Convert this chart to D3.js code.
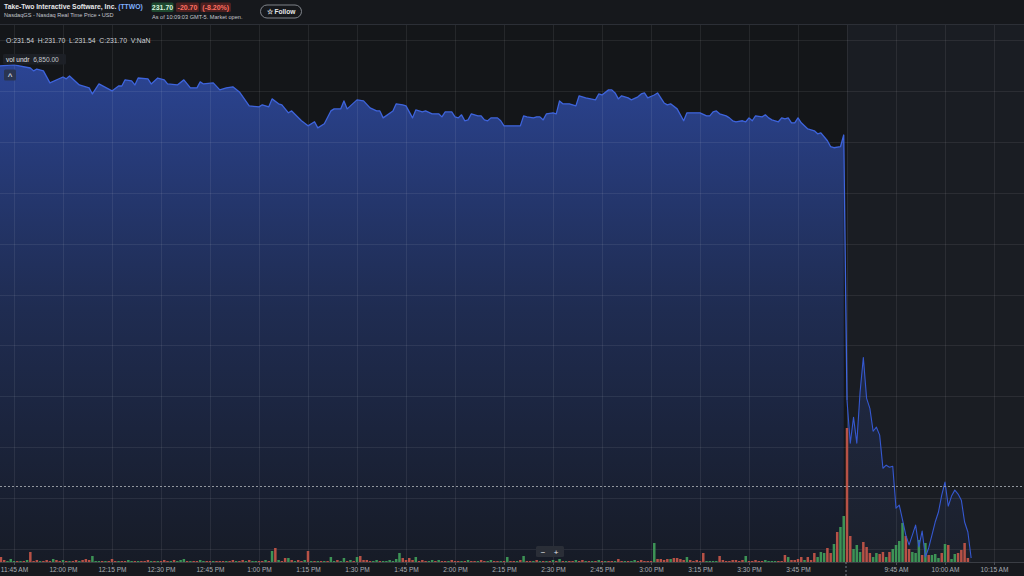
<!DOCTYPE html>
<html><head><meta charset="utf-8">
<script src="https://cdn.jsdelivr.net/npm/d3@7"></script>
<style>
html,body{margin:0;padding:0;background:#16181c;overflow:hidden;}
svg{display:block;font-family:"Liberation Sans",Arial,sans-serif;}
</style></head><body>
<svg id="c" width="1024" height="576"></svg>
<script>
// ---------- DATA ----------
const day1Times = ["11:40","11:45","11:50","11:51","11:52","11:54","11:56","12:00","12:01","12:02","12:05","12:08","12:09","12:11","12:15","12:17","12:18","12:19","12:21","12:22","12:23","12:26","12:27","12:29","12:31","12:32","12:35","12:37","12:39","12:41","12:42","12:43","12:46","12:48","12:50","12:52","12:54","12:57","13:00","13:01","13:03","13:04","13:06","13:07","13:09","13:10","13:13","13:15","13:17","13:18","13:20","13:22","13:23","13:25","13:26","13:27","13:30","13:32","13:34","13:36","13:37","13:38","13:41","13:42","13:44","13:45","13:47","13:48","13:50","13:51","13:53","13:55","13:56","13:57","13:59","14:00","14:01","14:02","14:03","14:04","14:05","14:07","14:08","14:09","14:10","14:11","14:13","14:14","14:15","14:20","14:21","14:22","14:24","14:25","14:26","14:27","14:28","14:30","14:31","14:32","14:33","14:35","14:37","14:38","14:40","14:43","14:44","14:45","14:47","14:48","14:49","14:50","14:51","14:53","14:54","14:56","14:57","14:58","14:59","15:01","15:02","15:04","15:05","15:06","15:08","15:10","15:11","15:15","15:17","15:18","15:19","15:20","15:21","15:23","15:24","15:25","15:26","15:28","15:29","15:30","15:31","15:32","15:34","15:35","15:36","15:37","15:39","15:40","15:41","15:42","15:43","15:44","15:45","15:46","15:48","15:50","15:51","15:52","15:54","15:55","15:56","15:58","15:59"];
const day1Prices = [256.47,256.53,256.35,256.18,256.29,256.18,255.47,255.82,255.71,255.88,255.35,255.18,254.82,255.41,255.00,255.29,255.29,255.65,255.59,255.35,255.76,255.71,255.41,255.76,255.65,255.41,255.35,255.65,255.18,255.18,255.53,255.41,255.47,255.06,255.18,255.24,254.94,254.12,254.06,254.18,254.06,254.53,254.24,254.18,253.71,253.82,253.24,252.94,253.18,252.82,253.06,253.82,253.94,253.94,254.41,253.94,254.47,254.41,254.00,253.82,253.82,253.41,253.82,254.24,254.18,254.12,253.41,253.88,253.76,253.82,253.65,253.65,253.47,253.76,253.76,253.47,253.41,253.59,253.24,253.29,253.65,253.53,253.53,253.29,253.24,253.41,253.41,253.24,252.94,252.94,253.53,253.47,253.41,253.47,253.47,253.29,253.65,253.71,253.65,254.41,254.24,254.24,254.12,254.71,254.59,254.47,254.82,254.76,255.06,255.06,254.88,254.53,254.71,254.59,254.47,254.65,254.82,254.88,254.59,254.76,254.88,254.29,254.18,254.24,253.94,253.24,253.71,253.71,253.53,253.53,253.76,253.82,253.65,253.53,253.41,253.24,253.18,253.24,253.18,253.41,253.24,253.53,253.47,253.59,253.41,253.29,253.18,253.41,253.35,253.41,253.12,253.12,253.41,253.12,252.76,252.65,252.47,252.53,252.06,251.71,251.65,251.71,252.40];
const day2Times = ["09:30","09:31","09:32","09:33","09:34","09:35","09:36","09:37","09:38","09:39","09:40","09:41","09:42","09:43","09:44","09:45","09:46","09:47","09:48","09:49","09:50","09:51","09:52","09:53","09:54","09:55","09:56","09:57","09:58","09:59","10:00","10:01","10:02","10:03","10:04","10:05","10:06","10:07","10:08"];
const day2Prices = [236.76,234.24,235.76,234.24,237.24,239.29,236.88,236.29,234.94,235.18,234.71,232.76,232.94,232.82,232.88,230.41,230.59,229.71,228.82,228.24,228.82,229.41,228.12,229.06,227.53,228.06,228.82,229.59,230.18,231.18,231.94,230.53,231.12,231.47,231.24,230.88,229.59,229.00,227.47];
// volume in thousands of shares, one bar per minute
const day1VolStart = "11:41";
const day1Volumes = [5,2,1,3,1,1,1,1,2,10, 1,2,1,1,2,1,3,2,1,2, 1,1,1,2,1,2,3,2,6,1, 1,1,1,1,3,1,1,1,1,2, 1,1,1,1,1,2,1,1,1,1, 2,1,1,2,1,2,3,1,1,1, 1,2,1,1,1,1,1,1,1,1, 1,2,1,1,2,1,2,1,1,1, 1,2,1,11,14,2,1,4,4,2, 1,2,1,2,11,1,1,1,1,1, 1,5,1,2,1,4,1,2,1,5, 6,2,2,1,1,2,1,1,1,2, 1,3,9,4,2,4,2,5,1,2, 1,1,2,1,2,1,1,1,2,1, 1,1,1,2,1,1,1,2,1,1, 2,1,1,1,1,5,1,1,1,2, 6,1,1,1,2,1,1,1,1,2, 1,3,1,1,1,1,2,1,2,1, 1,1,1,2,1,1,1,1,1,3, 1,1,1,1,2,1,2,1,1,1, 19,3,3,2,3,3,4,4,3,2, 5,2,1,2,1,9,1,1,1,1, 6,2,1,1,2,2,1,2,6,1, 1,2,1,1,2,1,1,1,1,1, 7,5,2,2,3,5,2,5,2,9, 5,10,9,14,9,18,30,35,46];
const day1VolDir = "rrgggrgrgr"+"rrgrrrgrrg"+"rgrrgrrrgg"+"grgrrrgrrg"+"grgrrrgrgr"+"rrgrgggrgr"+"rggrrgrrrg"+"rrgrrgrggr"+"rgrgrgrrgr"+"grrgrgrgrg"+"rggrggrgrg"+"rrrrggrggg"+"gggrrrrgrr"+"rggrgrrgrr"+"rgrgrrgrrg"+"grrgrgrrgr"+"grrgrgrgrg"+"rgrgrrgrrg"+"rgrgrgrrgr"+"rgrggrrrrr"+"grrrrgrrrr"+"grrrrrgggg"+"rrrrrrrrgr"+"rrrrggggrr"+"rgrrrrgrrr"+"gggrrgrgg";
const day2VolStart = "09:30";
const day2Volumes = [134,26,13,17,10,20,15,9,5,9,8,10,5,10,13,17,21,39,26,13,10,9,22,7,19,7,7,8,4,9,18,17,3,8,9,12,19,4];
const day2VolDir = "rrgggrrrggrrgrggggrrgggrgrgggrgrggrrrr";
const priceTicks = [228,231,234,237,240,243,246,249,252,255,258];
const tickTimes1 = ["11:45","12:00","12:15","12:30","12:45","13:00","13:15","13:30","13:45","14:00","14:15","14:30","14:45","15:00","15:15","15:30","15:45"];
const tickLabels1 = ["11:45 AM","12:00 PM","12:15 PM","12:30 PM","12:45 PM","1:00 PM","1:15 PM","1:30 PM","1:45 PM","2:00 PM","2:15 PM","2:30 PM","2:45 PM","3:00 PM","3:15 PM","3:30 PM","3:45 PM"];
const tickTimes2 = ["09:45","10:00","10:15"];
const tickLabels2 = ["9:45 AM","10:00 AM","10:15 AM"];
const lastPrice = 231.70;

// ---------- HELPERS ----------
const mins = t => { const [h,m] = t.split(":").map(Number); return h*60+m; };
const idx1 = t => mins(t) - 705;            // 11:45 = 0
const idx2 = t => mins(t) - 570 + 255;      // 9:30 (next day) continues after 16:00
const W = 1024, H = 576, AX = 562;

const svg = d3.select("#c");
const defs = svg.append("defs");
const x = d3.scaleLinear().domain([0, 300]).range([14, 14 + 300*49/15]);
const y = d3.scaleLinear().domain([228, 258]).range([549, 40]);
const yv = d3.scaleLinear().domain([0, 134]).range([AX, 428]);

// backgrounds
svg.append("rect").attr("width",W).attr("height",H).attr("fill","#16181c");
svg.append("rect").attr("x",0).attr("y",25).attr("width",x(255)).attr("height",AX-25).attr("fill","#141619");
svg.append("rect").attr("x",x(255)).attr("y",25).attr("width",W-x(255)).attr("height",AX-25).attr("fill","#1a1d23");

// gradients
const g1 = defs.append("linearGradient").attr("id","g1").attr("gradientUnits","userSpaceOnUse")
  .attr("x1",0).attr("y1",60).attr("x2",0).attr("y2",AX);
g1.append("stop").attr("offset",0).attr("stop-color","#3252b8").attr("stop-opacity",0.78);
g1.append("stop").attr("offset",0.5).attr("stop-color","#2e4a9e").attr("stop-opacity",0.42);
g1.append("stop").attr("offset",1).attr("stop-color","#2e4a9e").attr("stop-opacity",0.10);
const g2 = defs.append("linearGradient").attr("id","g2").attr("gradientUnits","userSpaceOnUse")
  .attr("x1",0).attr("y1",350).attr("x2",0).attr("y2",AX);
g2.append("stop").attr("offset",0).attr("stop-color","#2e4a9e").attr("stop-opacity",0.28);
g2.append("stop").attr("offset",1).attr("stop-color","#2e4a9e").attr("stop-opacity",0.06);

const d1 = day1Times.map((t,i)=>({i:idx1(t), v:day1Prices[i]}));
const d2 = day2Times.map((t,i)=>({i:idx2(t), v:day2Prices[i]}));

const area = d3.area().x(d=>x(d.i)).y0(AX).y1(d=>y(d.v));
const line = d3.line().x(d=>x(d.i)).y(d=>y(d.v));

svg.append("path").datum(d1).attr("d",area).attr("fill","url(#g1)");
svg.append("path").datum(d2).attr("d",area).attr("fill","url(#g2)");

// grid
const grid = svg.append("g").attr("stroke","#ffffff").attr("stroke-opacity",0.075).attr("stroke-width",1);
const vIdx = tickTimes1.map(idx1).concat([255]).concat(tickTimes2.map(idx2));
grid.selectAll("line.v").data(vIdx).join("line")
  .attr("x1",d=>Math.round(x(d))+0.5).attr("x2",d=>Math.round(x(d))+0.5).attr("y1",25).attr("y2",AX);
grid.selectAll("line.h").data(priceTicks).join("line")
  .attr("x1",0).attr("x2",W).attr("y1",d=>Math.round(y(d))+0.5).attr("y2",d=>Math.round(y(d))+0.5);

// volume bars
const vols = day1Volumes.map((v,k)=>({i:idx1(day1VolStart)+k, v, d:day1VolDir[k]}))
  .concat(day2Volumes.map((v,k)=>({i:idx2(day2VolStart)+k, v, d:day2VolDir[k]})));
svg.append("g").selectAll("rect").data(vols).join("rect")
  .attr("x",d=>x(d.i)-1.25).attr("width",2.5)
  .attr("y",d=>yv(d.v)).attr("height",d=>AX-yv(d.v))
  .attr("fill",d=>d.d==="r"?"#c05448":"#3f9a59").attr("fill-opacity",0.95);

// lines
svg.append("path").datum(d1.concat([d2[0]])).attr("d",line).attr("fill","none")
  .attr("stroke","#3e64dc").attr("stroke-width",1.3).attr("stroke-linejoin","round");
svg.append("path").datum(d2).attr("d",line).attr("fill","none")
  .attr("stroke","#3558d0").attr("stroke-width",1.1).attr("stroke-linejoin","round");

// last price dashed line
svg.append("line").attr("x1",0).attr("x2",W).attr("y1",Math.round(y(lastPrice))+0.5).attr("y2",Math.round(y(lastPrice))+0.5)
  .attr("stroke","#a7abb2").attr("stroke-width",1).attr("stroke-dasharray","2,2").attr("stroke-opacity",0.85);

// x axis
svg.append("rect").attr("x",0).attr("y",AX).attr("width",W).attr("height",H-AX).attr("fill","#17191e");
const tickVals = tickTimes1.map(idx1).concat(tickTimes2.map(idx2));
const tickLabs = tickLabels1.concat(tickLabels2);
const xAxis = d3.axisBottom(x).tickValues(tickVals).tickFormat((d,i)=>tickLabs[i]).tickSize(3).tickPadding(2);
const ax = svg.append("g").attr("transform",`translate(0,${AX})`).call(xAxis);
ax.select(".domain").attr("stroke","#3a3d44").attr("d",`M0,0.5H${W}`);
ax.selectAll(".tick line").attr("stroke","#4a4e56");
ax.selectAll(".tick text").attr("fill","#a9adb4").attr("font-size","6.6px").attr("font-family","'Liberation Sans',Arial,sans-serif");
// session boundary marker
svg.append("line").attr("x1",x(255)-1).attr("x2",x(255)-1).attr("y1",AX).attr("y2",H)
  .attr("stroke","#7a7e86").attr("stroke-dasharray","2,2");

// ---------- HEADER ----------
svg.append("line").attr("x1",0).attr("x2",W).attr("y1",24.5).attr("y2",24.5).attr("stroke","#2c2f36");
const t1 = svg.append("text").attr("x",4).attr("y",8.5).attr("font-size","6.8px").attr("font-weight","bold").attr("fill","#e6e7ea");
t1.append("tspan").text("Take-Two Interactive Software, Inc. ");
t1.append("tspan").attr("fill","#7fb0ff").text("(TTWO)");
svg.append("text").attr("x",4).attr("y",16.5).attr("font-size","5.6px").attr("fill","#c3c6cc").text("NasdaqGS - Nasdaq Real Time Price • USD");

const boxes = [
  {x:151.5,w:22,t:"231.70",bg:"#1f4a30",fg:"#d7f2df"},
  {x:176,w:23,t:"-20.70",bg:"#4d2020",fg:"#ff6f61"},
  {x:200.5,w:30.5,t:"(-8.20%)",bg:"#4d2020",fg:"#ff6f61"}
];
const hb = svg.append("g");
hb.selectAll("rect").data(boxes).join("rect").attr("x",d=>d.x).attr("y",2.5).attr("width",d=>d.w).attr("height",9.5).attr("rx",1.5).attr("fill",d=>d.bg);
hb.selectAll("text").data(boxes).join("text").attr("x",d=>d.x+d.w/2).attr("y",10).attr("text-anchor","middle")
  .attr("font-size","7px").attr("font-weight","bold").attr("fill",d=>d.fg).text(d=>d.t);
svg.append("text").attr("x",152).attr("y",18.5).attr("font-size","5.6px").attr("fill","#c3c6cc").text("As of 10:09:03 GMT-5. Market open.");
svg.append("rect").attr("x",260.5).attr("y",5).attr("width",41).attr("height",13).attr("rx",6.5).attr("fill","none").attr("stroke","#8a8e95").attr("stroke-width",0.9);
svg.append("text").attr("x",281).attr("y",14).attr("text-anchor","middle").attr("font-size","6.6px").attr("font-weight","bold").attr("fill","#e6e7ea").text("☆ Follow");

// OHLC legend
svg.append("text").attr("x",6).attr("y",43).attr("font-size","6.8px").attr("fill","#cfd2d7")
  .attr("xml:space","preserve").text("O:231.54  H:231.70  L:231.54  C:231.70  V:NaN");
svg.append("rect").attr("x",3).attr("y",54).attr("width",63).attr("height",10.5).attr("rx",1.5).attr("fill","#1e2128").attr("fill-opacity",0.9);
const vt = svg.append("text").attr("x",6).attr("y",61.8).attr("font-size","6.6px").attr("xml:space","preserve");
vt.append("tspan").attr("fill","#e6e7ea").text("vol undr  ");
vt.append("tspan").attr("fill","#c3c6cc").text("6,850.00");
svg.append("rect").attr("x",4).attr("y",69.5).attr("width",12).attr("height",11).attr("rx",1.5).attr("fill","#2a3551");
svg.append("text").attr("x",10).attr("y",79).attr("text-anchor","middle").attr("font-size","8px").attr("font-weight","bold").attr("fill","#c9cfdb").text("^");

// zoom control
svg.append("rect").attr("x",536).attr("y",546).attr("width",28).attr("height",11).attr("rx",1.5).attr("fill","#2a2e37");
svg.append("text").attr("x",543).attr("y",554.5).attr("text-anchor","middle").attr("font-size","8px").attr("fill","#e6e7ea").text("−");
svg.append("text").attr("x",556).attr("y",554.5).attr("text-anchor","middle").attr("font-size","8px").attr("fill","#e6e7ea").text("+");
</script>
</body></html>
